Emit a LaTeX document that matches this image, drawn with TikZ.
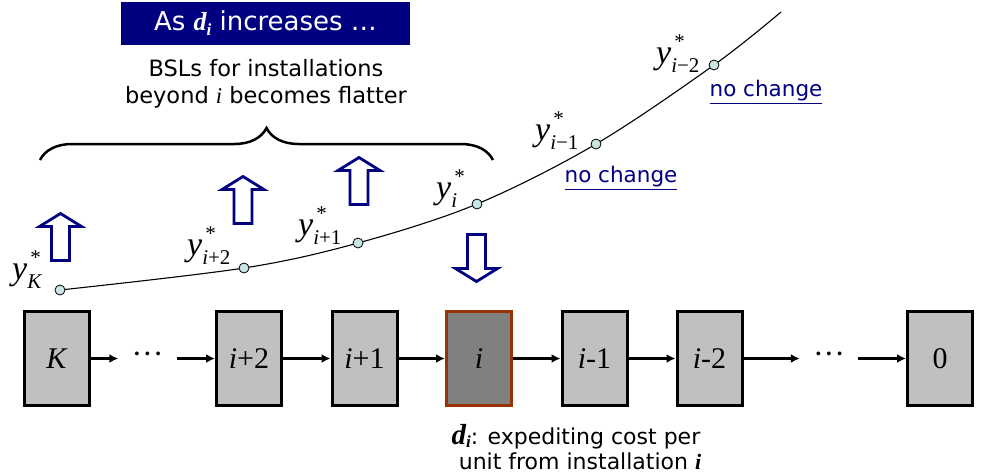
\documentclass[tikz,border=0pt]{standalone}
\usepackage{fontspec}
\setmainfont{DejaVu Sans}
\newfontfamily\tms{Liberation Serif}
\usetikzlibrary{arrows.meta,decorations.pathreplacing}
\definecolor{navy}{RGB}{0,0,128}
\definecolor{boxgray}{RGB}{192,192,192}
\definecolor{dkgray}{RGB}{128,128,128}
\definecolor{rust}{RGB}{153,51,0}
\definecolor{dotfill}{RGB}{200,230,228}
\newcommand\ylab[1]{{\tms\fontsize{34}{34}\selectfont\itshape y}\rlap{\kern3pt\raisebox{15pt}{\tms\fontsize{21}{21}\selectfont *}}\raisebox{-9pt}{\tms\fontsize{21}{21}\selectfont #1}}
\begin{document}
\begin{tikzpicture}[x=1pt,y=-1pt,
  stage/.style={draw=black, line width=3pt, fill=boxgray, minimum width=65pt, minimum height=94pt, inner sep=0pt, font=\tms\fontsize{30}{30}\selectfont},
  curstage/.style={stage, draw=rust, fill=dkgray},
  conn/.style={line width=3pt, -{Latex[length=9pt,width=9pt]}},
  ellip/.style={minimum width=58pt, inner sep=0pt, font=\tms\fontsize{32}{32}\selectfont},
  bsl/.style={circle, draw=black, line width=0.8pt, fill=dotfill, minimum size=10pt, inner sep=0pt},
  ylabel/.style={anchor=base west, inner sep=0pt},
  nochg/.style={text=navy, font=\fontsize{21.5}{21.5}\selectfont, inner sep=0pt},
  note/.style={font=\fontsize{22}{22}\selectfont, inner sep=0pt, anchor=base},
  hup/.pic={\draw[navy, line width=2.8pt, fill=white, miter limit=10] (-9,0) -- (-9,-34) -- (-21,-34) -- (0,-47) -- (21,-34) -- (9,-34) -- (9,0) -- cycle;}
]
\useasboundingbox (0,0) rectangle (985,475);

% title box
\node[fill=navy, text=white, minimum width=289pt, minimum height=43pt, inner sep=0pt,
  font=\fontsize{26}{26}\selectfont] (title) at (265.5,23.5)
  {As {\tms\bfseries\itshape d\raisebox{-5pt}{\fontsize{17}{17}\selectfont i}} increases …};
\node[align=center, font=\fontsize{22.5}{27}\selectfont, inner sep=0pt] (bsltxt) at (266,84)
  {BSLs for installations\\beyond {\tms\itshape i} becomes flatter};

% brace
\coordinate (brl) at (40,160);
\coordinate (brr) at (493,160);
\draw[line width=2.5pt, decorate, decoration={brace, amplitude=32pt}] (brl) -- (brr);

% stages
\node[stage] (bK) at (57,358.5) {\textit{K}};
\node[stage] (b2) at (249,358.5) {\textit{i}+2};
\node[stage] (b1) at (364.5,358.5) {\textit{i}+1};
\node[curstage] (bi) at (479,358.5) {\textit{i}};
\node[stage] (bm1) at (594.5,358.5) {\textit{i}-1};
\node[stage] (bm2) at (709.5,358.5) {\textit{i}-2};
\node[stage] (b0) at (940,358.5) {0};
\node[ellip] (dL) at (147.5,358.5) {···};
\node[ellip] (dR) at (829,358.5) {···};

\draw[conn] (bK) -- (dL);
\draw[conn] (dL) -- (b2);
\draw[conn] (b2) -- (b1);
\draw[conn] (b1) -- (bi);
\draw[conn] (bi) -- (bm1);
\draw[conn] (bm1) -- (bm2);
\draw[conn] (bm2) -- (dR);
\draw[conn] (dR) -- (b0);

% BSL curve
\coordinate (pK) at (60,290);
\coordinate (p2) at (244,268);
\coordinate (p1) at (358,243);
\coordinate (pi) at (477,204);
\coordinate (pm1) at (596,144);
\coordinate (pm2) at (714,65);
\coordinate (pend) at (781,12);
\draw[line width=1.1pt] plot[smooth, tension=0.55] coordinates {(pK) (p2) (p1) (pi) (pm1) (pm2) (pend)};
\foreach \p in {pK,p2,p1,pi,pm1,pm2} \node[bsl] (n\p) at (\p) {};

% labels
\node[ylabel] (lK) at (12,279) {\ylab{\textit{K}}};
\node[ylabel] (l2) at (187,255) {\ylab{\textit{i}+2}};
\node[ylabel] (l1) at (298,235) {\ylab{\textit{i}+1}};
\node[ylabel] (li) at (436,198) {\ylab{\textit{i}}};
\node[ylabel] (lm1) at (535,140) {\ylab{\textit{i}−1}};
\node[ylabel] (lm2) at (656,63) {\ylab{\textit{i}−2}};

\node[nochg] (nc1) at (621,178) {\underline{no change}};
\node[nochg] (nc2) at (766,92) {\underline{no change}};

% hollow arrows
\pic at (60.5,260.5) {hup};
\pic at (243,223.5) {hup};
\pic at (359,204.5) {hup};
\pic[rotate=180] at (476.5,234.5) {hup};

% bottom note
\node[note] (note1) at (576,444)
  {{\tms\bfseries\itshape\fontsize{29}{29}\selectfont d\raisebox{-3pt}{\fontsize{17}{17}\selectfont i}}: expediting cost per};
\node[note] (note2) at (580,469)
  {unit from installation {\tms\bfseries\itshape i}};
\end{tikzpicture}
\end{document}
